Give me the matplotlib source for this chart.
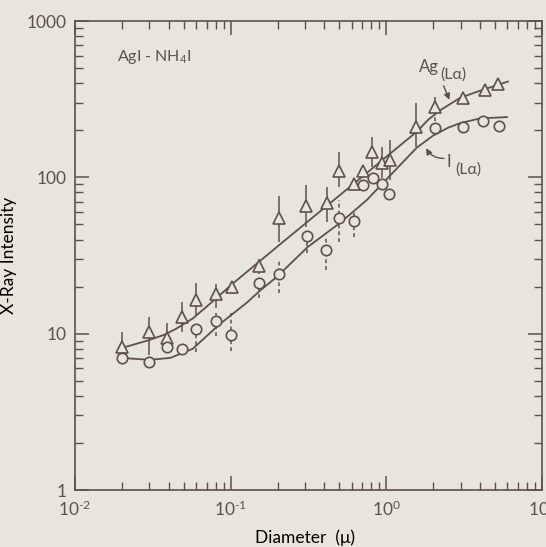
import matplotlib.pyplot as plt
import numpy as np

# colours of the scanned page
paper = "#e8e5da"
ink = "#5e504e"

plt.rcParams['font.family'] = ['Lato', 'DejaVu Sans']
plt.rcParams['mathtext.fontset'] = 'custom'
plt.rcParams['mathtext.rm'] = 'Lato'
plt.rcParams['text.color'] = ink
plt.rcParams['axes.edgecolor'] = ink
plt.rcParams['xtick.color'] = ink
plt.rcParams['ytick.color'] = ink

# Ag(La) points (triangles) with solid error bars
ag_d = [0.020, 0.030, 0.039, 0.049, 0.060, 0.080, 0.102, 0.152, 0.204, 0.305, 0.415,
        0.497, 0.62, 0.71, 0.81, 0.94, 1.05, 1.55, 2.05, 3.1, 4.3, 5.2]
ag_i = [8.2, 10.3, 9.4, 12.8, 16.4, 17.9, 19.9, 27.1, 55, 65.6, 68.6,
        110, 90.7, 110, 145, 124, 129, 210, 282, 324, 362, 396]
ag_lo = [7.5, 7.3, 8.5, 10.3, 13.2, 14.6, 18.0, 24.0, 38.6, 48, 51.8,
         86.8, np.nan, np.nan, 116.6, 99, 96, 156, 282, np.nan, np.nan, np.nan]
ag_hi = [10.3, 12.8, 11.7, 16.0, 21.1, 20.8, 21.7, 30.0, 76, 89, 86.8,
         145, np.nan, np.nan, 181, 157, 173, 299, 327, np.nan, np.nan, np.nan]

# I(La) points (circles) with dashed error bars
i_d = [0.020, 0.030, 0.039, 0.049, 0.060, 0.080, 0.100, 0.152, 0.204, 0.31, 0.41,
       0.50, 0.62, 0.71, 0.82, 0.94, 1.04, 2.05, 3.1, 4.2, 5.3]
i_i = [7.0, 6.6, 8.2, 8.0, 10.7, 12.1, 9.8, 21.1, 24.1, 42.2, 34.3,
       55, 52.6, 89.4, 99, 90.7, 78.3, 207, 211, 229, 214]
i_lo = [np.nan, 6.0, np.nan, np.nan, 7.6, 9.6, 7.7, 16.9, 18.1, 32.8, 25.6,
        38.6, 41.6, np.nan, np.nan, np.nan, np.nan, 207, np.nan, np.nan, np.nan]
i_hi = [np.nan, 7.1, np.nan, np.nan, 10.7, 13.5, 13.6, 21.1, 29.6, 42.2, 41.6,
        71.7, 62, np.nan, np.nan, np.nan, np.nan, 270, np.nan, np.nan, np.nan]

# fitted curves
ag_fit_d = [0.020, 0.030, 0.038, 0.045, 0.057, 0.079, 0.103, 0.150, 0.207, 0.313, 0.415,
            0.676, 1.05, 1.57, 1.86, 2.21, 2.97, 3.99, 6.04]
ag_fit_i = [8.1, 9.1, 9.9, 10.8, 12.5, 16.5, 20.9, 28.5, 37.2, 52.2, 65.8,
            98, 141, 196, 234, 268, 322, 358, 410]
i_fit_d = [0.020, 0.030, 0.041, 0.057, 0.085, 0.127, 0.154, 0.198, 0.313, 0.504,
           0.750, 1.05, 1.57, 2.0, 2.5, 2.97, 3.99, 5.95]
i_fit_i = [7.0, 6.8, 7.0, 8.0, 11.5, 15.8, 18.8, 23.1, 35.9, 51.1,
           71.7, 102, 155, 185, 208, 222, 238, 243]

xtick_vals = [0.01, 0.1, 1, 10]
xtick_labels = [r'$\mathregular{10^{\text{-}2}}$', r'$\mathregular{10^{\text{-}1}}$',
                r'$\mathregular{10^{0}}$', r'$\mathregular{10^{1}}$']
ytick_vals = [1, 10, 100, 1000]
ytick_labels = ['1', '10', '100', '1000']

fig = plt.figure(figsize=(5.46, 5.47), dpi=100, facecolor=paper)
ax = fig.add_axes([0.1374, 0.1042, 0.8553, 0.8574])
ax.set_facecolor(paper)
ax.set_xscale('log')
ax.set_yscale('log')
ax.set_xlim(0.01, 10)
ax.set_ylim(1, 1000)

# curves
ax.plot(ag_fit_d, ag_fit_i, color=ink, lw=1.3, zorder=2)
ax.plot(i_fit_d, i_fit_i, color=ink, lw=1.3, zorder=2)

# error bars
ag_d_a = np.array(ag_d)
ok = ~np.isnan(np.array(ag_lo))
ax.vlines(ag_d_a[ok], np.array(ag_lo)[ok], np.array(ag_hi)[ok], color=ink, lw=1.1, zorder=3)
i_d_a = np.array(i_d)
ok = ~np.isnan(np.array(i_lo))
ax.vlines(i_d_a[ok], np.array(i_lo)[ok], np.array(i_hi)[ok], color=ink, lw=1.1,
          linestyles=(0, (2.5, 2)), zorder=3)

# markers
ax.plot(ag_d, ag_i, ls='none', marker='^', ms=8, mfc=paper, mec=ink, mew=1.2, zorder=4)
ax.plot(i_d, i_i, ls='none', marker='o', ms=7.5, mfc=paper, mec=ink, mew=1.2, zorder=4)

# ticks
ax.set_xticks(xtick_vals)
ax.set_xticklabels(xtick_labels)
ax.set_yticks(ytick_vals)
ax.set_yticklabels(ytick_labels)
ax.tick_params(which='both', direction='in', top=True, right=True)
ax.tick_params(which='major', length=10, width=1.1, labelsize=12.5)
ax.tick_params(axis='x', which='major', pad=7)
ax.tick_params(axis='y', which='major', pad=6)
ax.tick_params(which='minor', length=5.5, width=1.0)
for s in ax.spines.values():
    s.set_linewidth(1.2)

ax.set_xlabel('Diameter  (μ)', fontsize=12.5)
ax.set_ylabel('X-Ray Intensity', fontsize=12.5)
ax.xaxis.set_label_coords(0.4925, -0.085)
ax.yaxis.set_label_coords(-0.125, 0.5)

# annotations
ax.text(0.09, 0.923, 'AgI - NH$_\\mathregular{4}$I', transform=ax.transAxes,
        fontsize=11.5, va='center', ha='left')
ax.text(0.737, 0.902, 'Ag', transform=ax.transAxes, fontsize=12, va='center', ha='left')
ax.text(0.783, 0.886, '(Lα)', transform=ax.transAxes, fontsize=11.5, va='center', ha='left')
ax.text(0.796, 0.700, 'I', transform=ax.transAxes, fontsize=12, va='center', ha='left')
ax.text(0.814, 0.684, '(Lα)', transform=ax.transAxes, fontsize=11.5, va='center', ha='left')
ax.annotate('', xy=(0.802, 0.832), xytext=(0.789, 0.862), xycoords='axes fraction',
            arrowprops=dict(arrowstyle='-|>', color=ink, lw=1.0, mutation_scale=9,
                            shrinkA=0, shrinkB=0))
ax.annotate('', xy=(0.752, 0.729), xytext=(0.790, 0.707), xycoords='axes fraction',
            arrowprops=dict(arrowstyle='-|>', color=ink, lw=1.0, mutation_scale=9,
                            shrinkA=0, shrinkB=0, connectionstyle='arc3,rad=-0.3'))

fig.savefig('out.png', dpi=100, facecolor=paper)
